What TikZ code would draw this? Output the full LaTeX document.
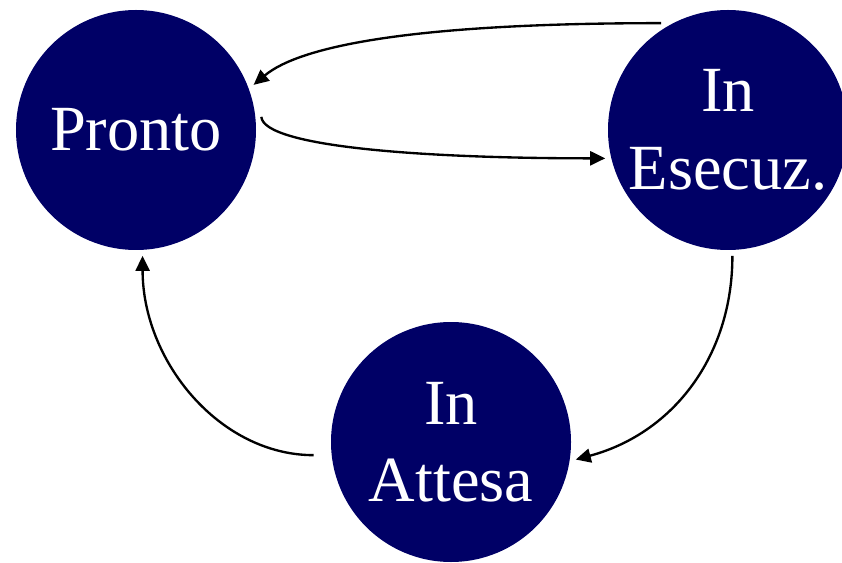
\documentclass[tikz,border=0pt]{standalone}
\usepackage{fontspec}
\setmainfont{Liberation Serif}
\usepackage{tikz}
\usetikzlibrary{arrows.meta}
\definecolor{navy}{RGB}{0,0,102}

\begin{document}
\begin{tikzpicture}[state/.style={circle, fill=navy, text=white, minimum size=72mm, inner sep=0pt, outer sep=1.8mm, align=center, font=\fontsize{55}{66}\selectfont},
      edge/.style={-{Triangle[length=4.5mm,width=4.2mm]}, line width=2pt},
      node distance=177.6mm]
      \useasboundingbox (-40.8mm,39mm) rectangle (211.8mm,-129.9mm);

      \node[state] (pronto) {Pronto};
      \node[state, right of=pronto] (esec) {In\\Esecuz.};
      \node[coordinate, right of=pronto, node distance=94.5mm] (mid) {};
      \node[state, below of=mid, node distance=93.6mm] (attesa) {In\\Attesa};

      \draw[edge] (esec.122) .. controls +(180:75mm) and +(40:18mm) .. (pronto.21);
      \draw[edge] (pronto.6) .. controls +(-85:9mm) and +(180:55mm) .. (esec.193);
      \draw[edge] (esec.272) to[out=-90, in=15] (attesa.352);
      \draw[edge, shorten <=3.6mm] (attesa.186) to[out=180, in=-90] (pronto.273);

    \end{tikzpicture}
\end{document}
